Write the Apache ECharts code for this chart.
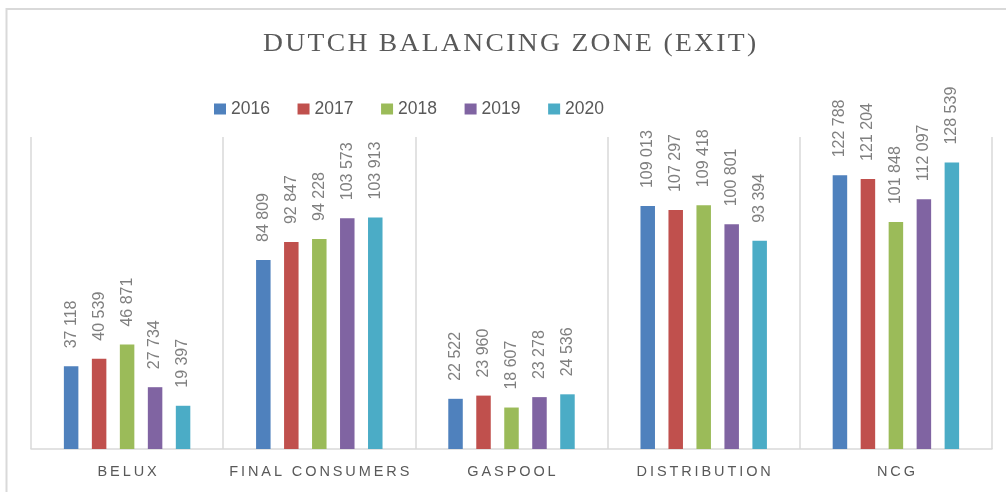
<!DOCTYPE html>
<html>
<head>
<meta charset="utf-8">
<script src="https://cdn.jsdelivr.net/npm/echarts@6/dist/echarts.min.js"></script>
<style>html,body{margin:0;padding:0;background:#fff;}#c{width:1006px;height:492px;}</style>
</head>
<body>
<div id="c"></div>
<script>
const titleText = 'DUTCH BALANCING ZONE (EXIT)';
const categories = ['BELUX', 'FINAL CONSUMERS', 'GASPOOL', 'DISTRIBUTION', 'NCG'];
const years = ['2016', '2017', '2018', '2019', '2020'];
const v2016 = [37118, 84809, 22522, 109013, 122788];
const v2017 = [40539, 92847, 23960, 107297, 121204];
const v2018 = [46871, 94228, 18607, 109418, 101848];
const v2019 = [27734, 103573, 23278, 100801, 112097];
const v2020 = [19397, 103913, 24536, 93394, 128539];
const colors = ['#4F81BD', '#C0504D', '#9BBB59', '#8064A2', '#4BACC6'];

const seriesValues = [v2016, v2017, v2018, v2019, v2020];
const fmt = v => String(v).replace(/\B(?=(\d{3})+(?!\d))/g, ' ');
const spaced = (s, sp) => s.split('').join(sp);

const chart = echarts.init(document.getElementById('c'), null, {renderer: 'canvas'});
chart.setOption({
  animation: false,
  backgroundColor: '#fff',
  graphic: [{
    type: 'rect', silent: true, z: -1,
    shape: {x: 6.5, y: 9, width: 1010, height: 500},
    style: {fill: 'none', stroke: '#d9d9d9', lineWidth: 2}
  }, {
    type: 'text', silent: true,
    x: 263, y: 31, scaleX: 1.062, originX: 0,
    style: {
      text: spaced(titleText, '\u200A'),
      fontFamily: 'Liberation Serif', fontSize: 26, fontWeight: 'normal',
      fill: '#595959', align: 'left', verticalAlign: 'top'
    }
  }],
  legend: {
    data: years,
    left: 214, top: 100, padding: 0,
    icon: 'rect', itemWidth: 12, itemHeight: 11, itemGap: 27.6,
    textStyle: {fontFamily: 'Liberation Sans', fontSize: 17.5, color: '#595959', width: 40}
  },
  grid: {left: 31, right: 14, top: 137, bottom: 43, containLabel: false},
  xAxis: {
    type: 'category', data: categories,
    axisLine: {lineStyle: {color: '#d9d9d9', width: 1.5}},
    axisTick: {show: false},
    splitLine: {show: true, interval: 0, lineStyle: {color: '#d9d9d9', width: 1.5}},
    axisLabel: {
      interval: 0,
      formatter: s => spaced(s, '\u2009'),
      fontFamily: 'Liberation Sans', fontSize: 14.5, color: '#595959', margin: 15
    }
  },
  yAxis: {type: 'value', min: 0, max: 140000, show: false, splitLine: {show: false}},
  series: years.map((y, i) => ({
    name: y, type: 'bar', data: seriesValues[i],
    barWidth: 14.5, barGap: '93%',
    itemStyle: {color: colors[i]},
    label: {
      show: true, position: 'top', rotate: 90, distance: 18,
      align: 'left', verticalAlign: 'middle',
      formatter: p => fmt(p.value),
      fontFamily: 'Liberation Sans', fontSize: 16, color: '#7f7f7f'
    }
  }))
});
</script>
</body>
</html>
